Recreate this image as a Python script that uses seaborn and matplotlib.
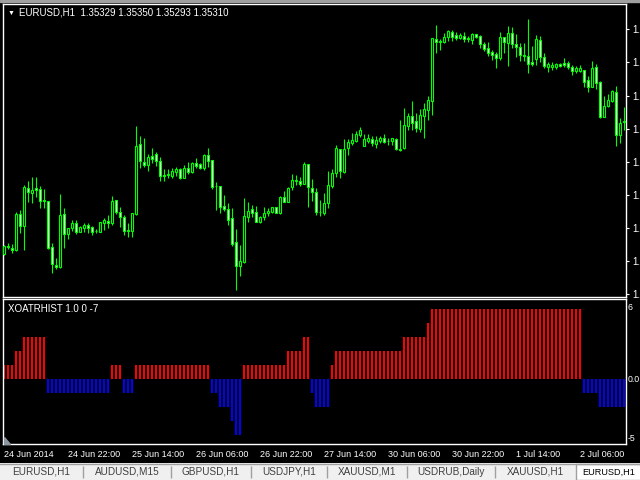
import numpy as np
import pandas as pd
import seaborn as sns
import matplotlib.pyplot as plt
from matplotlib.patches import Rectangle, Polygon

# ---- chart text ----
symbol_title = 'EURUSD,H1  1.35329 1.35350 1.35293 1.35310'
indicator_title = 'XOATRHIST 1.0 0 -7'
tab_labels = ['EURUSD,H1', 'AUDUSD,M15', 'GBPUSD,H1', 'USDJPY,H1',
              'XAUUSD,M1', 'USDRUB,Daily', 'XAUUSD,H1', 'EURUSD,H1']

# ---- hourly bars (weekend 28-29 Jun skipped) ----
bar_times = list(pd.date_range('2014-06-24 06:00', '2014-06-27 23:00', freq='h')) + \
            list(pd.date_range('2014-06-30 00:00', periods=66, freq='h'))

open_ = [1.36184, 1.36216, 1.36208, 1.36200, 1.36344, 1.36296, 1.36448, 1.36428, 1.36448, 1.36444,
         1.36400, 1.36396, 1.36212, 1.36140, 1.36132, 1.36344, 1.36264, 1.36288, 1.36308, 1.36272,
         1.36288, 1.36300, 1.36292, 1.36276, 1.36272, 1.36308, 1.36316, 1.36308, 1.36400, 1.36352,
         1.36332, 1.36280, 1.36276, 1.36344, 1.36624, 1.36552, 1.36540, 1.36576, 1.36584, 1.36556,
         1.36500, 1.36500, 1.36496, 1.36512, 1.36524, 1.36488, 1.36528, 1.36512, 1.36548, 1.36544,
         1.36528, 1.36580, 1.36560, 1.36456, 1.36456, 1.36376, 1.36364, 1.36328, 1.36232, 1.36136,
         1.36152, 1.36332, 1.36364, 1.36352, 1.36312, 1.36332, 1.36348, 1.36352, 1.36372, 1.36348,
         1.36412, 1.36392, 1.36452, 1.36476, 1.36476, 1.36464, 1.36544, 1.36448, 1.36432, 1.36352,
         1.36348, 1.36388, 1.36456, 1.36508, 1.36604, 1.36512, 1.36608, 1.36628, 1.36636, 1.36660,
         1.36616, 1.36636, 1.36644, 1.36624, 1.36636, 1.36648, 1.36636, 1.36636, 1.36644, 1.36604,
         1.36608, 1.36696, 1.36736, 1.36716, 1.36684, 1.36736, 1.36760, 1.36796, 1.37044, 1.37036,
         1.37032, 1.37052, 1.37072, 1.37060, 1.37048, 1.37056, 1.37048, 1.37040, 1.37064, 1.37056,
         1.37024, 1.37008, 1.36992, 1.36984, 1.36968, 1.37052, 1.37028, 1.37068, 1.37024, 1.37012,
         1.36980, 1.36976, 1.36952, 1.36964, 1.37040, 1.36972, 1.36932, 1.36932, 1.36932, 1.36944,
         1.36948, 1.36948, 1.36932, 1.36916, 1.36916, 1.36920, 1.36880, 1.36852, 1.36932, 1.36872,
         1.36732, 1.36776, 1.36796, 1.36832, 1.36660, 1.36712]

high = [1.36220, 1.36228, 1.36224, 1.36352, 1.36360, 1.36460, 1.36476, 1.36492, 1.36492, 1.36456,
        1.36444, 1.36396, 1.36228, 1.36168, 1.36424, 1.36368, 1.36288, 1.36320, 1.36320, 1.36296,
        1.36308, 1.36308, 1.36296, 1.36284, 1.36312, 1.36328, 1.36340, 1.36416, 1.36400, 1.36372,
        1.36340, 1.36308, 1.36348, 1.36696, 1.36656, 1.36648, 1.36584, 1.36608, 1.36592, 1.36572,
        1.36524, 1.36524, 1.36528, 1.36532, 1.36528, 1.36540, 1.36552, 1.36552, 1.36568, 1.36548,
        1.36584, 1.36608, 1.36560, 1.36472, 1.36456, 1.36420, 1.36388, 1.36368, 1.36284, 1.36220,
        1.36408, 1.36392, 1.36380, 1.36376, 1.36336, 1.36372, 1.36368, 1.36372, 1.36372, 1.36416,
        1.36436, 1.36452, 1.36504, 1.36500, 1.36492, 1.36552, 1.36544, 1.36484, 1.36448, 1.36400,
        1.36428, 1.36516, 1.36524, 1.36620, 1.36604, 1.36644, 1.36644, 1.36668, 1.36676, 1.36692,
        1.36664, 1.36664, 1.36656, 1.36656, 1.36656, 1.36664, 1.36648, 1.36648, 1.36648, 1.36720,
        1.36768, 1.36748, 1.36796, 1.36748, 1.36764, 1.36788, 1.36816, 1.37048, 1.37100, 1.37044,
        1.37068, 1.37080, 1.37080, 1.37072, 1.37068, 1.37072, 1.37056, 1.37068, 1.37064, 1.37060,
        1.37032, 1.37032, 1.37000, 1.36992, 1.37072, 1.37052, 1.37096, 1.37092, 1.37064, 1.37028,
        1.37028, 1.37124, 1.37016, 1.37060, 1.37056, 1.36988, 1.36952, 1.36952, 1.36948, 1.36948,
        1.36968, 1.36956, 1.36940, 1.36936, 1.36940, 1.36920, 1.36896, 1.36956, 1.36944, 1.36876,
        1.36816, 1.36824, 1.36840, 1.36856, 1.36728, 1.36772]

low = [1.36180, 1.36204, 1.36188, 1.36196, 1.36268, 1.36200, 1.36392, 1.36388, 1.36412, 1.36368,
       1.36368, 1.36204, 1.36108, 1.36124, 1.36128, 1.36208, 1.36244, 1.36276, 1.36264, 1.36272,
       1.36272, 1.36268, 1.36260, 1.36268, 1.36272, 1.36280, 1.36288, 1.36300, 1.36344, 1.36292,
       1.36260, 1.36252, 1.36252, 1.36340, 1.36528, 1.36532, 1.36516, 1.36548, 1.36536, 1.36476,
       1.36476, 1.36488, 1.36488, 1.36496, 1.36484, 1.36488, 1.36504, 1.36508, 1.36528, 1.36524,
       1.36520, 1.36532, 1.36444, 1.36360, 1.36348, 1.36356, 1.36300, 1.36216, 1.36040, 1.36096,
       1.36148, 1.36312, 1.36332, 1.36312, 1.36308, 1.36320, 1.36336, 1.36348, 1.36348, 1.36344,
       1.36392, 1.36392, 1.36440, 1.36460, 1.36456, 1.36464, 1.36372, 1.36396, 1.36340, 1.36336,
       1.36340, 1.36368, 1.36448, 1.36492, 1.36488, 1.36508, 1.36580, 1.36620, 1.36632, 1.36652,
       1.36616, 1.36628, 1.36616, 1.36608, 1.36628, 1.36628, 1.36620, 1.36620, 1.36600, 1.36596,
       1.36604, 1.36680, 1.36680, 1.36672, 1.36672, 1.36648, 1.36720, 1.36740, 1.36988, 1.37000,
       1.37028, 1.37036, 1.37036, 1.37040, 1.37044, 1.37032, 1.37032, 1.37024, 1.37048, 1.37008,
       1.36996, 1.36976, 1.36960, 1.36928, 1.36960, 1.36988, 1.36936, 1.37008, 1.36972, 1.36956,
       1.36956, 1.36908, 1.36936, 1.36940, 1.36952, 1.36928, 1.36912, 1.36920, 1.36924, 1.36932,
       1.36932, 1.36924, 1.36900, 1.36908, 1.36912, 1.36852, 1.36832, 1.36852, 1.36844, 1.36728,
       1.36732, 1.36772, 1.36792, 1.36616, 1.36628, 1.36680]

close = [1.36216, 1.36212, 1.36200, 1.36344, 1.36296, 1.36452, 1.36432, 1.36440, 1.36440, 1.36396,
         1.36396, 1.36208, 1.36144, 1.36132, 1.36340, 1.36264, 1.36288, 1.36308, 1.36272, 1.36292,
         1.36300, 1.36288, 1.36272, 1.36276, 1.36312, 1.36320, 1.36308, 1.36396, 1.36352, 1.36332,
         1.36276, 1.36276, 1.36348, 1.36616, 1.36556, 1.36540, 1.36572, 1.36564, 1.36556, 1.36496,
         1.36496, 1.36504, 1.36516, 1.36524, 1.36488, 1.36528, 1.36512, 1.36548, 1.36536, 1.36528,
         1.36580, 1.36556, 1.36452, 1.36456, 1.36372, 1.36364, 1.36320, 1.36224, 1.36136, 1.36156,
         1.36336, 1.36356, 1.36348, 1.36312, 1.36332, 1.36348, 1.36356, 1.36372, 1.36348, 1.36412,
         1.36392, 1.36448, 1.36480, 1.36480, 1.36464, 1.36544, 1.36452, 1.36432, 1.36352, 1.36352,
         1.36388, 1.36460, 1.36508, 1.36608, 1.36516, 1.36604, 1.36632, 1.36640, 1.36664, 1.36680,
         1.36644, 1.36648, 1.36628, 1.36640, 1.36648, 1.36632, 1.36636, 1.36648, 1.36604, 1.36600,
         1.36700, 1.36736, 1.36708, 1.36688, 1.36740, 1.36764, 1.36800, 1.37048, 1.37032, 1.37032,
         1.37052, 1.37076, 1.37052, 1.37048, 1.37060, 1.37044, 1.37044, 1.37064, 1.37052, 1.37024,
         1.37004, 1.36988, 1.36980, 1.36968, 1.37052, 1.37032, 1.37068, 1.37024, 1.37012, 1.36980,
         1.36976, 1.36944, 1.36944, 1.37044, 1.36972, 1.36936, 1.36944, 1.36940, 1.36944, 1.36936,
         1.36940, 1.36932, 1.36916, 1.36928, 1.36928, 1.36872, 1.36852, 1.36928, 1.36868, 1.36732,
         1.36776, 1.36800, 1.36836, 1.36660, 1.36708, 1.36716]

# XOATRHIST histogram value per bar
hist_values = [1, 1, 1, 2, 2, 3, 3, 3, 3, 3,
               3, -1, -1, -1, -1, -1, -1, -1, -1, -1,
               -1, -1, -1, -1, -1, -1, -1, 1, 1, 1,
               -1, -1, -1, 1, 1, 1, 1, 1, 1, 1,
               1, 1, 1, 1, 1, 1, 1, 1, 1, 1,
               1, 1, -1, -1, -2, -2, -2, -3, -4, -4,
               1, 1, 1, 1, 1, 1, 1, 1, 1, 1,
               1, 2, 2, 2, 2, 3, 3, -1, -2, -2,
               -2, -2, 1, 2, 2, 2, 2, 2, 2, 2,
               2, 2, 2, 2, 2, 2, 2, 2, 2, 2,
               3, 3, 3, 3, 3, 3, 4, 5, 5, 5,
               5, 5, 5, 5, 5, 5, 5, 5, 5, 5,
               5, 5, 5, 5, 5, 5, 5, 5, 5, 5,
               5, 5, 5, 5, 5, 5, 5, 5, 5, 5,
               5, 5, 5, 5, 5, -1, -1, -1, -1, -2,
               -2, -2, -2, -2, -2, -2]

price_ticks = [1.36024 + 0.001323 * k for k in range(9)]
hist_ticks = [5.16, 0.0, -4.19]
hist_tick_labels = ['6', '0.0', '-5']

sns.set_style('dark')
plt.rcParams['font.family'] = ['Liberation Sans', 'DejaVu Sans']

W, H = 640, 480
def fx(px):
    return px / W
def fy(py):
    return 1 - py / H

fig = plt.figure(figsize=(6.4, 4.8), dpi=100, facecolor='black')
ax = fig.add_axes([fx(3), fy(297), 623 / W, 293 / H])
ax2 = fig.add_axes([fx(3), fy(444), 623 / W, 145 / H])

idx = np.arange(len(open_))
o, h, l, c = map(np.array, (open_, high, low, close))
green = '#00ff00'

# ---- candles ----
ax.vlines(idx, l, h, color=green, lw=0.8, zorder=2)
bull = c >= o
ax.bar(idx, np.abs(c - o), bottom=np.minimum(o, c), width=0.55,
       color=np.where(bull, 'black', 'white'), edgecolor=green, linewidth=0.8, zorder=3)

# ---- histogram ----
hist_df = pd.DataFrame({'bar': idx, 'value': hist_values,
                        'sign': np.where(np.array(hist_values) > 0, 'up', 'down')})
sns.barplot(data=hist_df, x='bar', y='value', hue='sign',
            palette={'up': '#ff0000', 'down': '#0000ff'}, saturation=1, dodge=False,
            width=0.3, native_scale=True, errorbar=None, legend=False, linewidth=0, ax=ax2)

for a in (ax, ax2):
    a.set_facecolor('black')
    a.grid(False)
    a.set_xlim(-0.25, 155.5)
    a.set_xlabel('')
    a.set_ylabel('')
    for s in a.spines.values():
        s.set_color('white')
        s.set_linewidth(1)
    a.yaxis.tick_right()

ax.set_ylim(1.36012, 1.37184)
ax.set_xticks([])
ax.set_yticks(price_ticks)
# the window edge only leaves the first two characters of each price visible
ax.set_yticklabels([f'{t:.4f}'[:2] for t in price_ticks])
ax.tick_params(axis='y', colors='white', labelcolor='white', length=2.2, width=0.8,
               pad=2.2, labelsize=7)

ax2.set_ylim(-4.64, 5.71)
ax2.set_yticks(hist_ticks)
ax2.set_yticklabels(hist_tick_labels)
ax2.tick_params(axis='y', labelcolor='white', length=0, pad=1.2, labelsize=6.3)

tick_pos = idx[::16]
tick_labels = []
for k, i in enumerate(tick_pos):
    d = bar_times[i]
    if k == 0:
        tick_labels.append(f'{d.day} {d:%b %Y}')
    else:
        tick_labels.append(f'{d.day} {d:%b %H:%M}')
ax2.set_xticks(tick_pos)
ax2.set_xticklabels(tick_labels)
for t in ax2.get_xticklabels():
    t.set_ha('left')
ax2.tick_params(axis='x', colors='white', labelcolor='white', direction='out',
                length=3, width=0.8, pad=1, labelsize=6.5)

# ---- titles ----
fig.text(fx(11), fy(13), '\u25bc', color='white', fontsize=5, ha='center', va='center')
fig.text(fx(19), fy(12.7), symbol_title, color='white', fontsize=7, va='center')
fig.text(fx(7.5), fy(309), indicator_title, color='white', fontsize=7, va='center')

# top grey strip and chart-shift marker
fig.add_artist(Rectangle((0, fy(2)), 1, 2 / H, transform=fig.transFigure,
                         color='#a0a0a0', zorder=5))
fig.add_artist(Polygon([(fx(4), fy(437)), (fx(4), fy(444)), (fx(10), fy(444))],
                       closed=True, transform=fig.transFigure, color='#8c96a0', zorder=5))

# ---- symbol tabs ----
tab_ax = fig.add_axes([0, 0, 1, 17 / H])
tab_ax.set_facecolor('#f0f0f0')
tab_ax.set_xlim(0, 640)
tab_ax.set_ylim(0, 17)
tab_ax.set_xticks([])
tab_ax.set_yticks([])
for s in tab_ax.spines.values():
    s.set_visible(False)
tab_ax.axhline(16.5, color='#a0a0a0', lw=1)
tab_edges = [0, 83, 171, 251, 327, 407, 495, 576]
tab_ax.add_patch(Rectangle((576, 0), 70, 16.5, facecolor='white', edgecolor='#a0a0a0', lw=1))
tab_ax.vlines(tab_edges[1:-1], 2, 14, color='#a0a0a0', lw=1)
for k, lab in enumerate(tab_labels[:-1]):
    cx = (tab_edges[k] + tab_edges[k + 1]) / 2
    tab_ax.text(cx, 8, lab, ha='center', va='center', fontsize=7.2, color='#404040')
tab_ax.text(582, 8, tab_labels[-1], ha='left', va='center', fontsize=6.6, color='black')

fig.savefig('out.png', dpi=100, facecolor='black')
